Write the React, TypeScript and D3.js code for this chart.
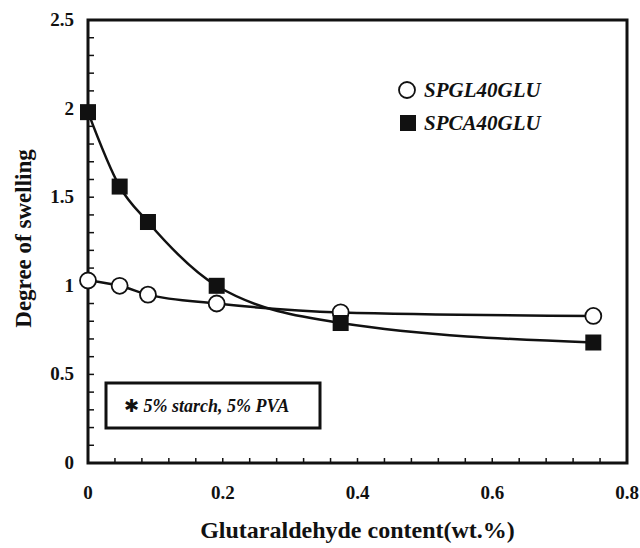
import React from "react";
import * as d3 from "d3";

// glutaraldehyde content (wt.%)
const xValues = [0, 0.047, 0.089, 0.191, 0.375, 0.75];
const spgl = [1.03, 1.0, 0.95, 0.9, 0.85, 0.83];
const spca = [1.98, 1.56, 1.36, 1.0, 0.79, 0.68];

const xTicks = [0, 0.2, 0.4, 0.6, 0.8];
const yTicks = [0, 0.5, 1, 1.5, 2, 2.5];

const W = 640;
const H = 548;
const margin = { left: 88, right: 13, top: 20, bottom: 85 };
const font = "'Liberation Serif', 'Times New Roman', serif";

export default function App() {
  const x = d3.scaleLinear().domain([0, 0.8]).range([margin.left, W - margin.right]);
  const y = d3.scaleLinear().domain([0, 2.5]).range([H - margin.bottom, margin.top]);

  const line = d3
    .line<number>()
    .x((_, i) => x(xValues[i]))
    .y((d) => y(d))
    .curve(d3.curveMonotoneX);

  const xMinor = d3.range(0, 0.8001, 0.04);
  const yMinor = d3.range(0, 2.5001, 0.1);
  const [x0, x1] = x.range();
  const [y0, y1] = y.range();

  return (
    <svg
      width={W}
      height={H}
      style={{ position: "absolute", left: 0, top: 0, background: "#fff" }}
      fontFamily={font}
    >
      {/* minor ticks, inside */}
      {xMinor.map((t, i) => (
        <line key={"xm" + i} x1={x(t)} x2={x(t)} y1={y0} y2={y0 - 5} stroke="#111" strokeWidth={1.5} />
      ))}
      {yMinor.map((t, i) => (
        <line key={"ym" + i} x1={x0} x2={x0 + 6} y1={y(t)} y2={y(t)} stroke="#111" strokeWidth={1.5} />
      ))}

      {/* frame */}
      <rect x={x0} y={y1} width={x1 - x0} height={y0 - y1} fill="none" stroke="#111" strokeWidth={3} />

      {/* tick labels */}
      {yTicks.map((t) => (
        <text key={"yl" + t} x={x0 - 14} y={y(t) + 6} textAnchor="end" fontSize={19} fontWeight="bold" fill="#111">
          {t}
        </text>
      ))}
      {xTicks.map((t) => (
        <text key={"xl" + t} x={x(t)} y={y0 + 36} textAnchor="middle" fontSize={19} fontWeight="bold" fill="#111">
          {t}
        </text>
      ))}

      {/* axis titles */}
      <text x={(x0 + x1) / 2} y={538} textAnchor="middle" fontSize={24} fontWeight="bold" fill="#111">
        Glutaraldehyde content(wt.%)
      </text>
      <text
        transform={`translate(31, ${(y0 + y1) / 2 - 3}) rotate(-90)`}
        textAnchor="middle"
        fontSize={23}
        fontWeight="bold"
        fill="#111"
      >
        Degree of swelling
      </text>

      {/* curves */}
      <path d={line(spca) || ""} fill="none" stroke="#111" strokeWidth={2.5} />
      <path d={line(spgl) || ""} fill="none" stroke="#111" strokeWidth={2.5} />

      {/* markers */}
      {spgl.map((v, i) => (
        <circle key={"c" + i} cx={x(xValues[i])} cy={y(v)} r={8} fill="#fff" stroke="#111" strokeWidth={1.8} />
      ))}
      {spca.map((v, i) => (
        <rect key={"s" + i} x={x(xValues[i]) - 8} y={y(v) - 8} width={16} height={16} fill="#111" />
      ))}

      {/* legend */}
      <circle cx={407} cy={90} r={8} fill="#fff" stroke="#111" strokeWidth={1.8} />
      <text x={424} y={97} fontSize={21} fontWeight="bold" fontStyle="italic" fill="#111">
        SPGL40GLU
      </text>
      <rect x={400} y={115} width={16} height={16} fill="#111" />
      <text x={424} y={130} fontSize={21} fontWeight="bold" fontStyle="italic" fill="#111">
        SPCA40GLU
      </text>

      {/* note box */}
      <rect x={106} y={383} width={214} height={45} fill="#fff" stroke="#111" strokeWidth={3} />
      <text x={124} y={412} fontSize={18} fontWeight="bold" fontStyle="italic" fill="#111">
        <tspan fontStyle="normal" fontFamily="'DejaVu Sans'" fontSize={18}>✱</tspan> 5% starch, 5% PVA
      </text>
    </svg>
  );
}
